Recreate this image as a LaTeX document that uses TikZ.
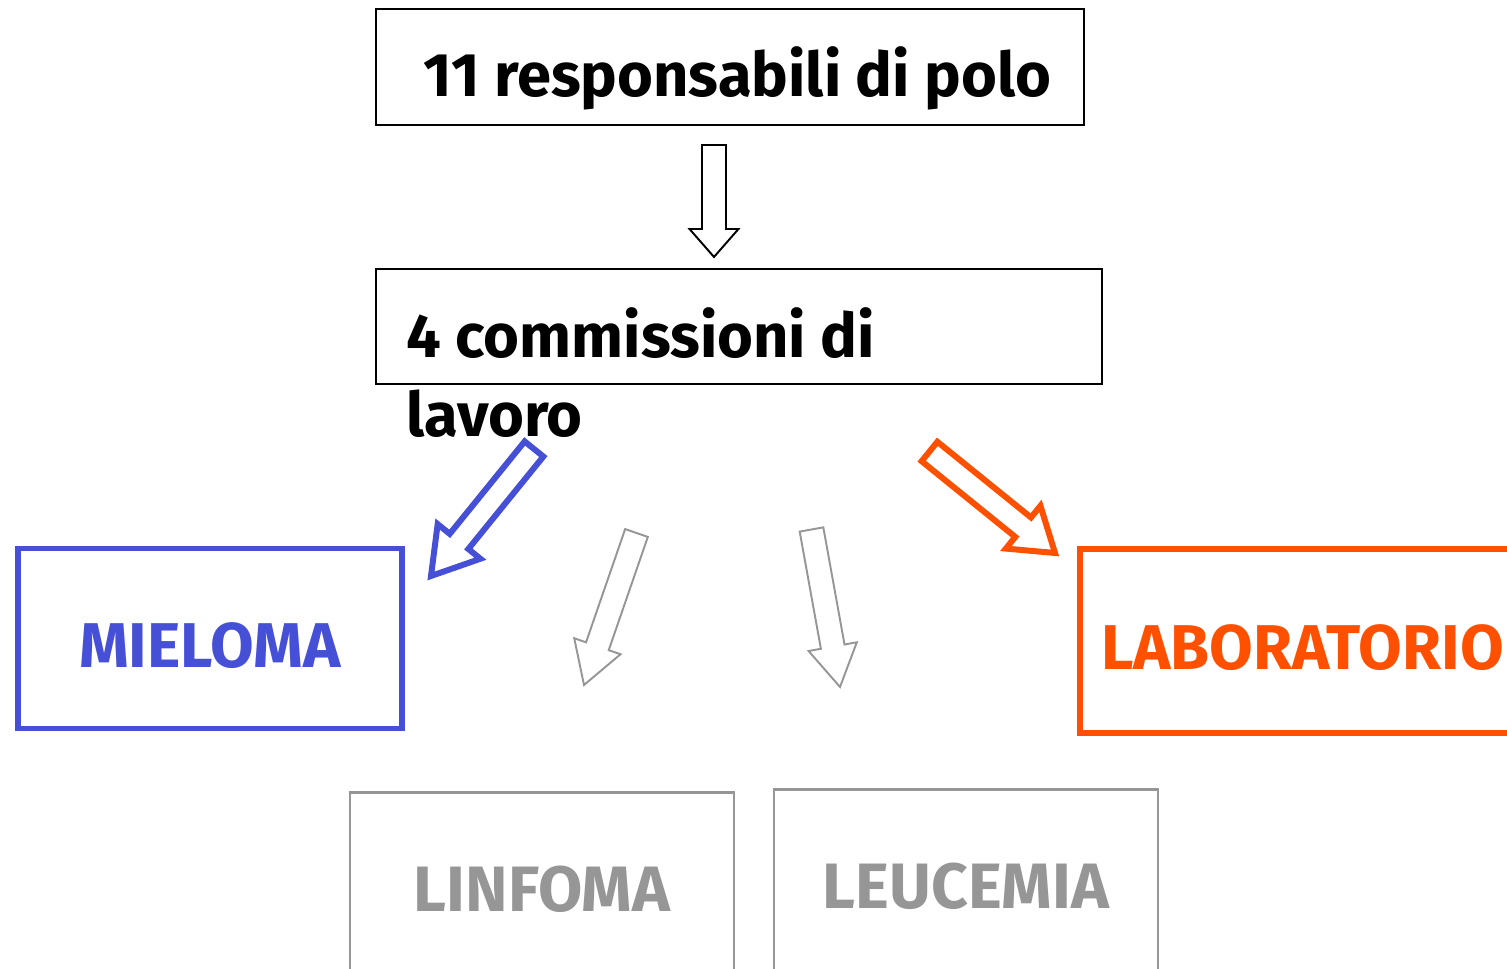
\documentclass[tikz,border=0pt]{standalone}
\usepackage{fontspec}
\setmainfont{Fira Sans}
\usetikzlibrary{calc,positioning}

\definecolor{mieloblue}{RGB}{70,80,215}
\definecolor{laborange}{RGB}{255,80,0}
\definecolor{fadegray}{RGB}{150,150,150}

% hollow block arrow: [style]{tail}{tip}{half shaft}{half head}{head length}
\newcommand{\hollowarrow}[6][]{%
  \draw[#1] ($(#2)!#4!90:(#3)$)
    -- ($(#3)!#6!(#2)!#4!90:(#3)$)
    -- ($(#3)!#6!(#2)!#5!90:(#3)$)
    -- (#3)
    -- ($(#3)!#6!(#2)!#5!-90:(#3)$)
    -- ($(#3)!#6!(#2)!#4!-90:(#3)$)
    -- ($(#2)!#4!-90:(#3)$) -- cycle;}

\begin{document}
\begin{tikzpicture}[
    head/.style={draw, line width=1.1pt, inner sep=0pt, font=\bfseries\fontsize{35}{42}\selectfont},
    topic/.style={draw, line width=3.4pt, minimum width=7.68cm, minimum height=3.6cm, inner sep=0pt,
        text height=1.15cm, text depth=0cm, font=\bfseries\fontsize{36}{42}\selectfont},
    faded/.style={draw=fadegray, text=fadegray, line width=1.4pt, minimum width=7.68cm, minimum height=3.86cm,
        inner sep=0pt, font=\bfseries\fontsize{36.5}{42}\selectfont}
]
\useasboundingbox (0,0) rectangle (30.14,19.38);

\node[head, minimum width=14.16cm, minimum height=2.32cm, text height=1.2cm, text depth=0cm] (resp) at (14.60,18.04)
    {\hspace{0.3cm}11 responsabili di polo};
\node[head, minimum width=14.52cm, minimum height=2.30cm] (comm) at (14.78,12.85) {};
\node[anchor=base west, align=left, inner sep=0pt, font=\bfseries\fontsize{35}{45.5}\selectfont] (commtxt)
    at (8.12,10.64) {4 commissioni di\\lavoro};

\node[topic, draw=mieloblue, text=mieloblue] (mieloma) at (4.20,6.61) {MIELOMA};
\node[topic, draw=laborange, text=laborange, minimum width=8.9cm, minimum height=3.68cm] (lab) at (26.05,6.56) {LABORATORIO};
\node[faded] (linfoma) at (10.84,1.60) {LINFOMA};
\node[faded] (leucemia) at (19.32,1.66) {LEUCEMIA};

\coordinate (t1) at (14.28,16.48);
\coordinate (h1) at (14.28,14.24);
\coordinate (t2) at (10.68,10.40);
\coordinate (h2) at (8.62,7.86);
\coordinate (t3) at (12.73,8.72);
\coordinate (h3) at (11.68,5.68);
\coordinate (t4) at (16.23,8.79);
\coordinate (h4) at (16.80,5.64);
\coordinate (t5) at (18.59,10.35);
\coordinate (h5) at (21.10,8.32);

\hollowarrow[line width=1.1pt]{t1}{h1}{0.24cm}{0.49cm}{0.56cm}
\hollowarrow[mieloblue, line width=3.4pt]{t2}{h2}{0.24cm}{0.55cm}{0.89cm}
\hollowarrow[fadegray, line width=1.1pt]{t3}{h3}{0.24cm}{0.49cm}{0.82cm}
\hollowarrow[fadegray, line width=1.1pt]{t4}{h4}{0.24cm}{0.49cm}{0.82cm}
\hollowarrow[laborange, line width=3.4pt]{t5}{h5}{0.25cm}{0.55cm}{0.82cm}

\end{tikzpicture}
\end{document}
